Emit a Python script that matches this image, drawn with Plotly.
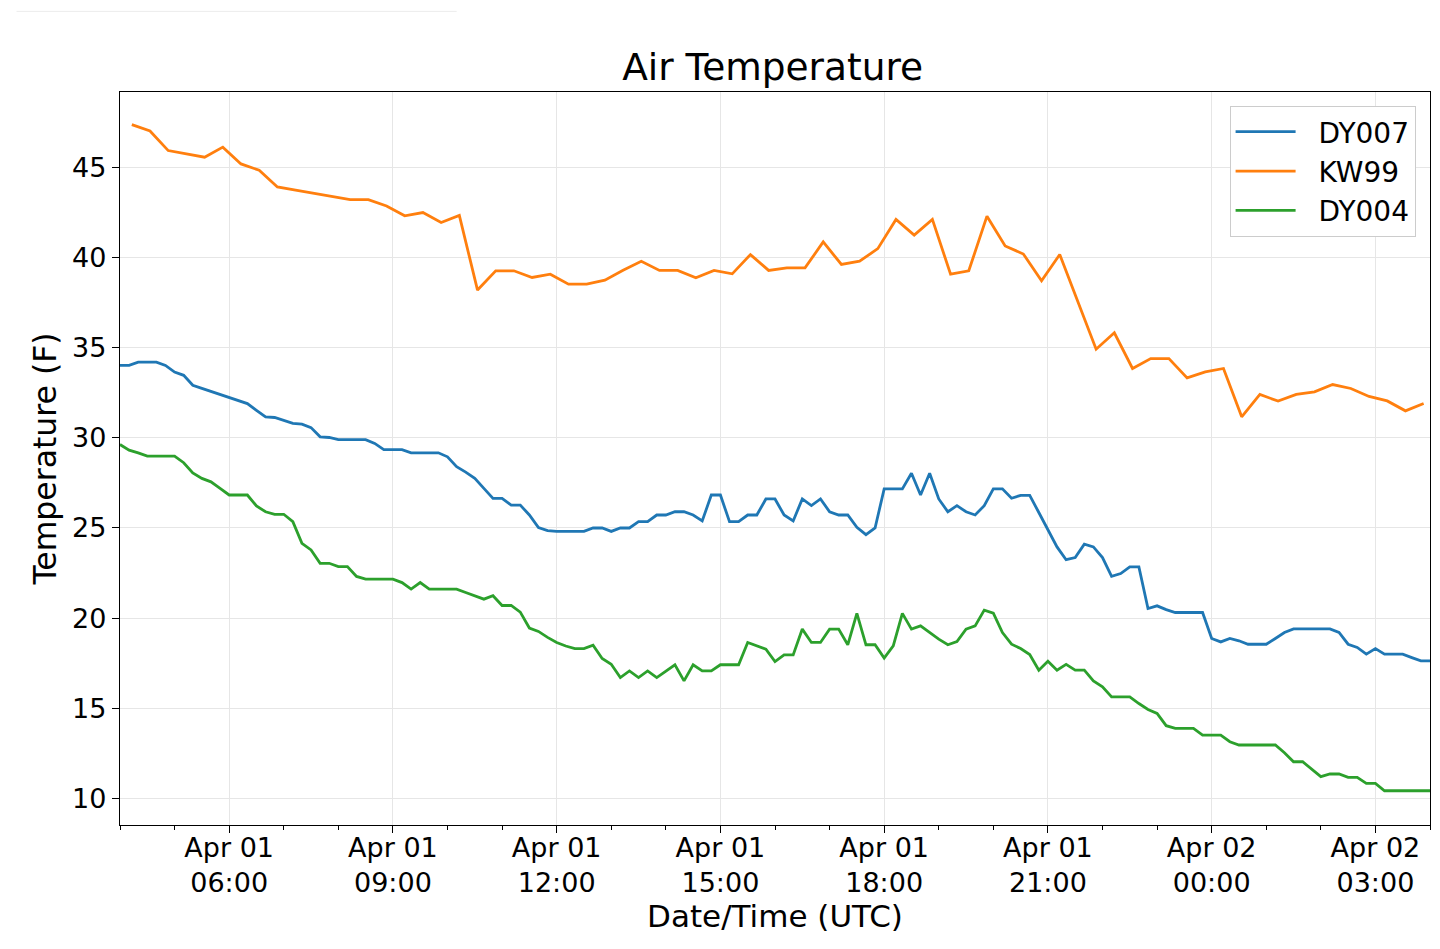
import pandas as pd
import plotly.graph_objects as go

# ============================
# 1) Data (read from the chart)
# ============================
# DY007 and DY004: every 10 min, 04:00 Apr 01 -> 04:00 Apr 02
t10 = pd.date_range("2019-04-01 04:00", periods=145, freq="10min")
# KW99: every 20 min, starting 04:13
t20 = pd.date_range("2019-04-01 04:13", periods=72, freq="20min")

dy007 = [
    34.02, 34.02, 34.2, 34.2, 34.2, 34.02, 33.65, 33.47, 32.92, 32.75,
    32.58, 32.41, 32.24, 32.07, 31.9, 31.53, 31.16, 31.13, 30.97, 30.8,
    30.76, 30.57, 30.06, 30.02, 29.9, 29.9, 29.9, 29.9, 29.69, 29.35,
    29.35, 29.35, 29.17, 29.17, 29.17, 29.17, 28.95, 28.4, 28.1, 27.75,
    27.2, 26.64, 26.64, 26.27, 26.27, 25.72, 25.02, 24.85, 24.81, 24.81,
    24.81, 24.81, 25.0, 25.0, 24.81, 25.0, 25.0, 25.35, 25.35, 25.72,
    25.72, 25.9, 25.9, 25.72, 25.39, 26.83, 26.83, 25.35, 25.35, 25.72,
    25.72, 26.61, 26.61, 25.72, 25.39, 26.61, 26.24, 26.61, 25.9, 25.72,
    25.72, 25.04, 24.63, 25.0, 27.17, 27.17, 27.17, 28.04, 26.83, 28.04,
    26.61, 25.9, 26.24, 25.9, 25.72, 26.24, 27.17, 27.17, 26.65, 26.81,
    26.81, 25.86, 24.9, 23.95, 23.24, 23.36, 24.1, 23.95, 23.36, 22.32,
    22.47, 22.84, 22.84, 20.53, 20.68, 20.47, 20.31, 20.31, 20.31, 20.31,
    18.87, 18.68, 18.87, 18.74, 18.55, 18.55, 18.55, 18.87, 19.2, 19.4,
    19.4, 19.4, 19.4, 19.4, 19.2, 18.55, 18.37, 18.0, 18.31, 18.0,
    18.0, 18.0, 17.81, 17.63, 17.63,
]

kw99 = [
    47.38, 47.03, 45.94, 45.75, 45.57, 46.13, 45.2, 44.85, 43.92, 43.75,
    43.58, 43.4, 43.22, 43.22, 42.87, 42.32, 42.5, 41.95, 42.34, 38.2,
    39.27, 39.27, 38.9, 39.08, 38.53, 38.53, 38.75, 39.3, 39.8, 39.29,
    39.29, 38.88, 39.29, 39.1, 40.17, 39.29, 39.43, 39.43, 40.87, 39.62,
    39.8, 40.5, 42.12, 41.25, 42.12, 39.08, 39.27, 42.3, 40.65, 40.2,
    38.71, 40.17, 37.55, 34.92, 35.83, 33.85, 34.4, 34.4, 33.33, 33.66,
    33.85, 31.17, 32.41, 32.04, 32.41, 32.55, 32.96, 32.74, 32.3, 32.05,
    31.5, 31.91,
]

dy004 = [
    29.63, 29.32, 29.17, 28.99, 28.99, 28.99, 28.99, 28.62, 28.06, 27.75,
    27.56, 27.2, 26.83, 26.83, 26.83, 26.22, 25.9, 25.76, 25.76, 25.35,
    24.15, 23.78, 23.04, 23.04, 22.86, 22.86, 22.31, 22.16, 22.16, 22.16,
    22.16, 21.97, 21.61, 21.97, 21.61, 21.61, 21.61, 21.61, 21.42, 21.24,
    21.05, 21.24, 20.7, 20.7, 20.33, 19.45, 19.26, 18.93, 18.65, 18.45,
    18.31, 18.31, 18.5, 17.76, 17.44, 16.7, 17.07, 16.7, 17.07, 16.7,
    17.07, 17.41, 16.52, 17.41, 17.07, 17.07, 17.41, 17.41, 17.41, 18.65,
    18.46, 18.28, 17.59, 17.96, 17.96, 19.39, 18.65, 18.65, 19.39, 19.39,
    18.52, 20.26, 18.52, 18.52, 17.78, 18.46, 20.26, 19.39, 19.57, 19.2,
    18.83, 18.52, 18.7, 19.39, 19.57, 20.44, 20.28, 19.2, 18.55, 18.31,
    17.98, 17.11, 17.61, 17.11, 17.43, 17.11, 17.11, 16.52, 16.19, 15.63,
    15.63, 15.63, 15.26, 14.93, 14.71, 14.03, 13.88, 13.88, 13.88, 13.51,
    13.51, 13.51, 13.14, 12.96, 12.96, 12.96, 12.96, 12.96, 12.53, 12.03,
    12.03, 11.62, 11.2, 11.35, 11.35, 11.16, 11.16, 10.83, 10.83, 10.42,
    10.42, 10.42, 10.42, 10.42, 10.42,
]

tick_times = pd.date_range("2019-04-01 06:00", periods=8, freq="3h")
tick_text = [t.strftime("%b %d<br>%H:%M") for t in tick_times]
y_ticks = [10, 15, 20, 25, 30, 35, 40, 45]

# ============================
# 2) Figure
# ============================
gap = "\u00a0\u00a0"  # space between legend sample and label
fig = go.Figure()
fig.add_trace(go.Scatter(x=t10, y=dy007, mode="lines", name=gap + "DY007",
                         line=dict(color="#1f77b4", width=2.8)))
fig.add_trace(go.Scatter(x=t20, y=kw99, mode="lines", name=gap + "KW99",
                         line=dict(color="#ff7f0e", width=2.8)))
fig.add_trace(go.Scatter(x=t10, y=dy004, mode="lines", name=gap + "DY004",
                         line=dict(color="#2ca02c", width=2.8)))

axis_common = dict(
    showline=True, linecolor="black", linewidth=1.3, mirror=True,
    ticks="outside", ticklen=7, tickwidth=1.2, tickcolor="black",
    showgrid=True, gridcolor="#e6e6e6", gridwidth=1,
    zeroline=False, tickfont=dict(size=27, color="black"),
)

fig.update_xaxes(
    **axis_common,
    range=[t10[0], t10[-1]],
    tickvals=tick_times, ticktext=tick_text,
    ticklabelstandoff=-9,
    minor=dict(dtick=3600000, tick0="2019-04-01 04:00", ticks="outside",
               ticklen=4, tickcolor="black", showgrid=False),
    title=dict(text="Date/Time (UTC)", font=dict(size=31, color="black"), standoff=5),
)
fig.update_yaxes(
    **axis_common,
    range=[8.52, 49.19],
    tickvals=y_ticks,
    title=dict(text="Temperature (F)", font=dict(size=31.5, color="black"), standoff=6),
)

# the page body adds an 8 px offset, so the figure is 8 px smaller
fig.update_layout(
    width=1432, height=941,
    margin=dict(l=112, r=10, t=84, b=124),
    paper_bgcolor="white", plot_bgcolor="white",
    font=dict(family="DejaVu Sans", color="black"),
    title=dict(text="Air Temperature", font=dict(size=37.5, color="black"),
               x=0.534, xanchor="center", y=0.937, yanchor="middle"),
    legend=dict(x=0.989, y=0.981, xanchor="right", yanchor="top",
                bgcolor="white", bordercolor="#cccccc", borderwidth=1,
                font=dict(size=28, color="black"), itemwidth=60),
    showlegend=True,
    shapes=[dict(type="line", xref="paper", yref="paper",
                 x0=-0.079, x1=0.257, y0=1.11, y1=1.11,
                 line=dict(color="#ececec", width=1))],
)

fig.write_html("out.html")
